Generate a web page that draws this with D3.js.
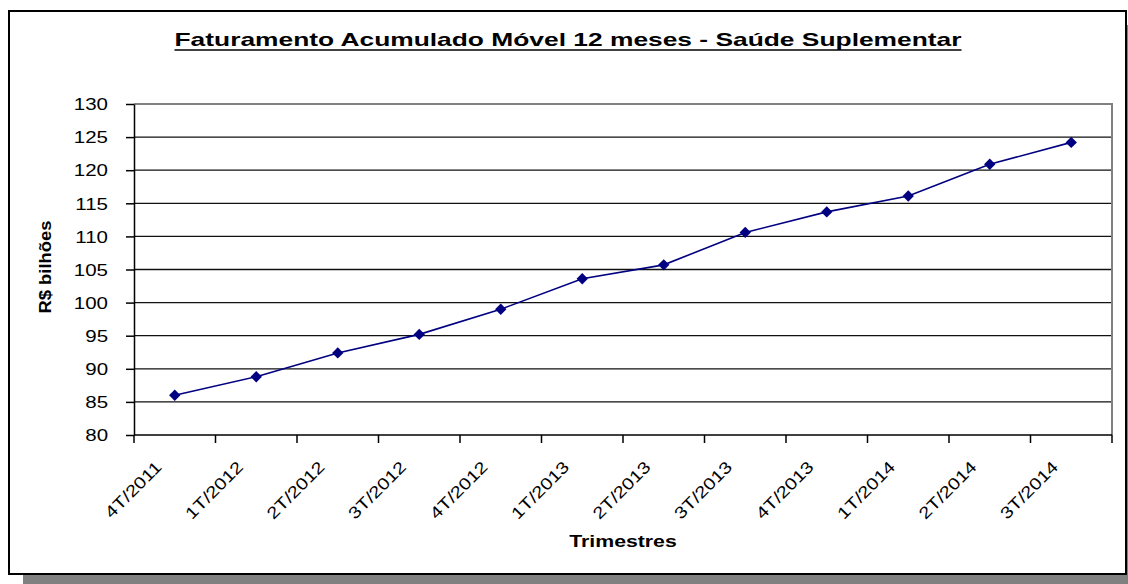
<!DOCTYPE html>
<html>
<head>
<meta charset="utf-8">
<script src="https://cdn.jsdelivr.net/npm/d3@7"></script>
<style>
  body { margin: 0; background: #fff; }
  svg text { font-family: "Liberation Sans", Arial, sans-serif; fill: #000; }
</style>
</head>
<body>
<script>
// quarterly values, R$ billions
const quarters = ["4T/2011", "1T/2012", "2T/2012", "3T/2012", "4T/2012", "1T/2013",
                  "2T/2013", "3T/2013", "4T/2013", "1T/2014", "2T/2014", "3T/2014"]
const revenue = [86.0, 88.8, 92.4, 95.2, 99.0, 103.6, 105.7, 110.6, 113.7, 116.1, 120.9, 124.2]
const yTicks = [80, 85, 90, 95, 100, 105, 110, 115, 120, 125, 130]

const W = 1128, H = 584
const plot = {left: 134, right: 1112, top: 104, bottom: 435}

const svg = d3.select("body").append("svg")
    .attr("width", W)
    .attr("height", H)

// excel draws its text a bit wider than arial, so stretch it
function stretch(sel, k) {
  sel.each(function() {
    const len = this.getComputedTextLength()
    d3.select(this).attr("textLength", len * k).attr("lengthAdjust", "spacingAndGlyphs")
  })
}

// shadow + chart frame
svg.append("rect")
    .attr("x", 23).attr("y", 25)
    .attr("width", 1130).attr("height", 570)
    .attr("fill", "#808080")
svg.append("rect")
    .attr("x", 9).attr("y", 11)
    .attr("width", 1117).attr("height", 563)
    .attr("fill", "#fff")
    .attr("stroke", "#000")
    .attr("stroke-width", 2)

const x = d3.scaleBand().domain(quarters).range([plot.left, plot.right]).padding(0)
const y = d3.scaleLinear().domain([80, 130]).range([plot.bottom, plot.top])

// gridlines
svg.append("g")
  .selectAll("line")
  .data(yTicks.filter(d => d > 80 && d < 130))
  .join("line")
    .attr("x1", plot.left).attr("x2", plot.right)
    .attr("y1", d => y(d)).attr("y2", d => y(d))
    .attr("stroke", "#111")
    .attr("stroke-width", 1.3)

// plot area border (grey top/right)
svg.append("path")
    .attr("d", `M${plot.left},${y(130)}H${plot.right}V${plot.bottom}`)
    .attr("fill", "none")
    .attr("stroke", "#808080")
    .attr("stroke-width", 2)

// y axis
const yAxis = svg.append("g")
    .attr("transform", `translate(${plot.left},0)`)
    .call(d3.axisLeft(y).tickValues(yTicks).tickSize(8).tickPadding(18).tickSizeOuter(0))
yAxis.select(".domain").attr("stroke", "#000").attr("stroke-width", 1.5)
yAxis.selectAll(".tick line").attr("stroke", "#000").attr("stroke-width", 1.5)
yAxis.selectAll("text")
    .attr("font-size", 16)
    .attr("font-family", "Liberation Sans, Arial, sans-serif")
    .attr("dy", "0.36em")
    .call(stretch, 1.28)

// x axis: ticks on the category boundaries
const bounds = quarters.map(q => x(q)).concat([plot.right])
svg.append("line")
    .attr("x1", plot.left).attr("x2", plot.right)
    .attr("y1", plot.bottom).attr("y2", plot.bottom)
    .attr("stroke", "#000").attr("stroke-width", 1.5)
svg.append("g")
  .selectAll("line")
  .data(bounds)
  .join("line")
    .attr("x1", d => d).attr("x2", d => d)
    .attr("y1", plot.bottom).attr("y2", plot.bottom + 8)
    .attr("stroke", "#000").attr("stroke-width", 1.5)

svg.append("g")
  .selectAll("text")
  .data(quarters)
  .join("text")
    .attr("text-anchor", "end")
    .attr("font-size", 16.5)
    .attr("transform", d => `translate(${x(d) + x.bandwidth() / 2 - 12},${plot.bottom + 33}) rotate(-45)`)
    .text(d => d)
    .call(stretch, 1.22)

// series line
const line = d3.line()
    .x((d, i) => x(quarters[i]) + x.bandwidth() / 2)
    .y(d => y(d))

svg.append("path")
    .datum(revenue)
    .attr("d", line)
    .attr("fill", "none")
    .attr("stroke", "#000080")
    .attr("stroke-width", 1.6)

svg.append("g")
  .selectAll("path")
  .data(revenue)
  .join("path")
    .attr("d", d3.symbol(d3.symbolSquare, 64))
    .attr("transform", (d, i) => `translate(${x(quarters[i]) + x.bandwidth() / 2},${y(d)}) rotate(45)`)
    .attr("fill", "#000080")

// titles
const title = svg.append("text")
    .attr("x", 568).attr("y", 46)
    .attr("text-anchor", "middle")
    .attr("font-size", 19)
    .attr("font-weight", "bold")
    .text("Faturamento Acumulado Móvel 12 meses - Saúde Suplementar")
title.attr("textLength", 787).attr("lengthAdjust", "spacingAndGlyphs")
svg.append("line")
    .attr("x1", 568 - 787 / 2).attr("x2", 568 + 787 / 2)
    .attr("y1", 50).attr("y2", 50)
    .attr("stroke", "#000").attr("stroke-width", 1.6)

svg.append("text")
    .attr("x", (plot.left + plot.right) / 2).attr("y", 547)
    .attr("text-anchor", "middle")
    .attr("font-size", 17)
    .attr("font-weight", "bold")
    .text("Trimestres")
    .call(stretch, 1.25)

svg.append("text")
    .attr("transform", `translate(51,267) rotate(-90)`)
    .attr("text-anchor", "middle")
    .attr("font-size", 16)
    .attr("font-weight", "bold")
    .text("R$ bilhões")
    .call(stretch, 1.15)
</script>
</body>
</html>
